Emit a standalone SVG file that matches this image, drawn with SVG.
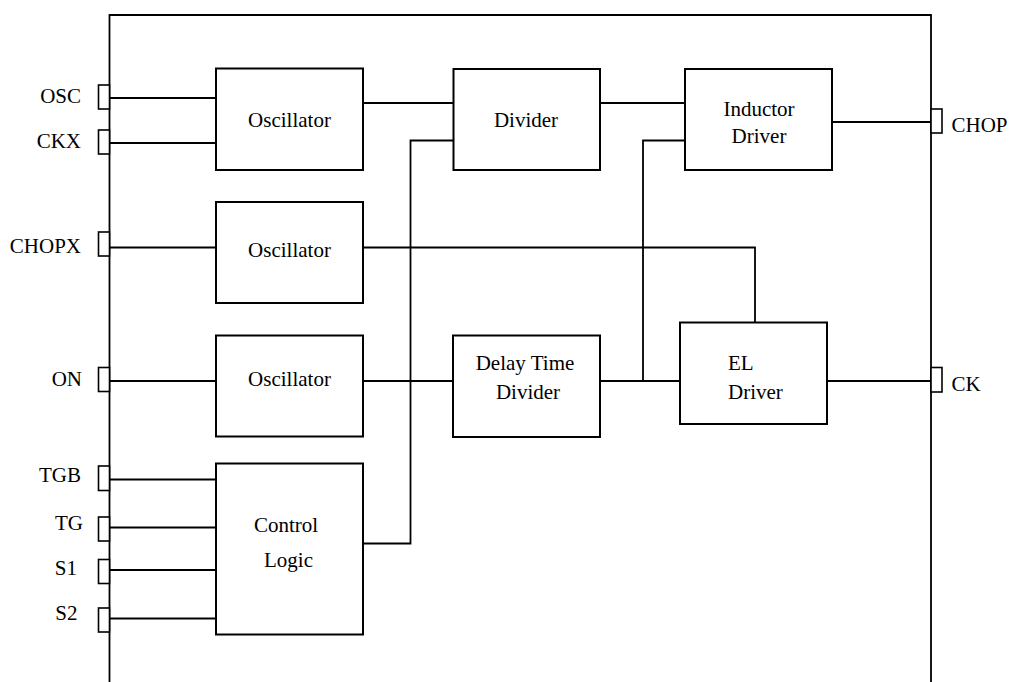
<svg xmlns="http://www.w3.org/2000/svg" width="1009" height="682" viewBox="0 0 1009 682">
<style>
.box{fill:#fff;stroke:#000;stroke-width:2}
.pin{fill:#fff;stroke:#000;stroke-width:1.6}
.w{fill:none;stroke:#000;stroke-width:1.8}
text{font-family:"Liberation Serif","Times New Roman",serif;font-size:21px;fill:#000}
.c{text-anchor:middle}
.e{text-anchor:end}
</style>
<rect width="1009" height="682" fill="#fff"/>
<g id="chip">
<path class="w" d="M109.5,690 V15 H931 V690" stroke-width="2"/>
</g>
<g id="connectors">
<path class="w" d="M109,98 H216"/>
<path class="w" d="M109,143 H216"/>
<path class="w" d="M109,247.5 H216"/>
<path class="w" d="M109,381 H216"/>
<path class="w" d="M109,479.5 H216"/>
<path class="w" d="M109,527.5 H216"/>
<path class="w" d="M109,570 H216"/>
<path class="w" d="M109,618.5 H216"/>
<path class="w" d="M363,103 H453"/>
<path class="w" d="M600,103 H685"/>
<path class="w" d="M832,122 H931"/>
<path class="w" d="M363,543.5 H410.5 V140.5 H453"/>
<path class="w" d="M363,247.5 H755 V322"/>
<path class="w" d="M363,381 H453"/>
<path class="w" d="M600,381 H680"/>
<path class="w" d="M643,381 V140.5 H685"/>
<path class="w" d="M827,381 H931"/>
</g>
<g id="pins">
<rect class="pin" x="98.5" y="85" width="11" height="24"/>
<rect class="pin" x="98.5" y="130" width="11" height="24"/>
<rect class="pin" x="98.5" y="232" width="11" height="24"/>
<rect class="pin" x="98.5" y="367.5" width="11" height="24"/>
<rect class="pin" x="98.5" y="466" width="11" height="24.5"/>
<rect class="pin" x="98.5" y="517" width="11" height="24"/>
<rect class="pin" x="98.5" y="559.5" width="11" height="24"/>
<rect class="pin" x="98.5" y="608" width="11" height="24"/>
<rect class="pin" x="931" y="109" width="11" height="24"/>
<rect class="pin" x="931" y="367.5" width="11" height="24.5"/>
</g>
<g id="pin-labels">
<text class="e" x="81" y="103">OSC</text>
<text class="e" x="81" y="148">CKX</text>
<text class="e" x="81" y="252.5">CHOPX</text>
<text class="e" x="82" y="385.5">ON</text>
<text class="e" x="81" y="482">TGB</text>
<text class="e" x="83" y="530">TG</text>
<text class="e" x="77" y="575">S1</text>
<text class="e" x="77.5" y="620">S2</text>
<text x="951.5" y="131.5">CHOP</text>
<text x="951.5" y="391">CK</text>
</g>
<g id="osc1">
<rect class="box" x="216" y="68.5" width="147" height="101.5"/>
<text class="c" x="289.5" y="127">Oscillator</text>
</g>
<g id="osc2">
<rect class="box" x="216" y="202" width="147" height="101"/>
<text class="c" x="289.5" y="257">Oscillator</text>
</g>
<g id="osc3">
<rect class="box" x="216" y="335.5" width="147" height="101"/>
<text class="c" x="289.5" y="385.5">Oscillator</text>
</g>
<g id="control">
<rect class="box" x="216" y="463.5" width="147" height="171"/>
<text class="c" x="286" y="532">Control</text>
<text class="c" x="288.5" y="567">Logic</text>
</g>
<g id="divider">
<rect class="box" x="453.5" y="69" width="146.5" height="101"/>
<text class="c" x="526" y="127">Divider</text>
</g>
<g id="delay">
<rect class="box" x="453" y="335.5" width="147" height="101.5"/>
<text class="c" x="525" y="369.5">Delay Time</text>
<text class="c" x="528" y="398.5">Divider</text>
</g>
<g id="inductor">
<rect class="box" x="685" y="69" width="147" height="101"/>
<text class="c" x="759" y="116">Inductor</text>
<text class="c" x="759" y="143">Driver</text>
</g>
<g id="el">
<rect class="box" x="680" y="322.5" width="147" height="101.5"/>
<text x="728" y="369.5">EL</text>
<text x="728" y="398.5">Driver</text>
</g>
</svg>
